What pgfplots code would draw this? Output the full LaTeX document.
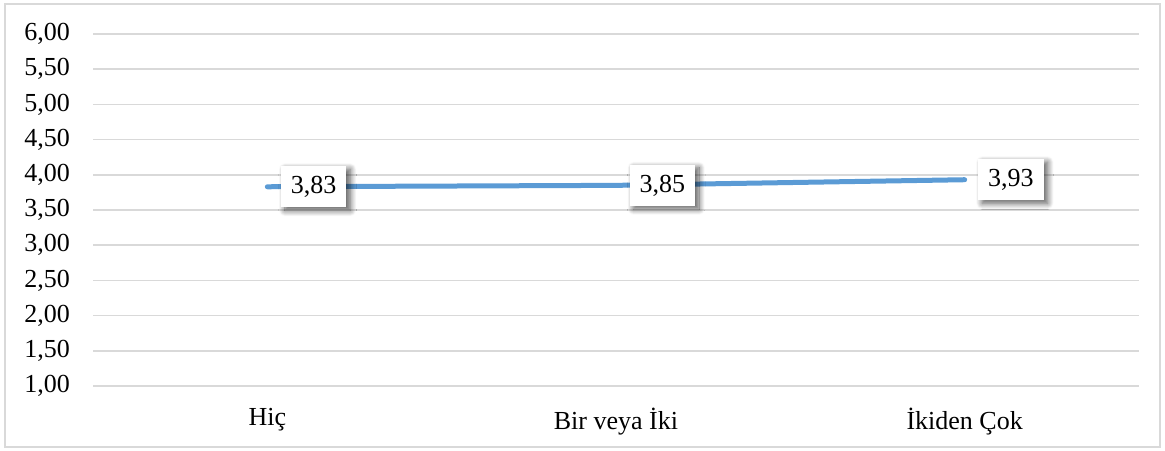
\documentclass[border=0pt]{standalone}
\usepackage{fontspec}
\setmainfont{Liberation Serif}
\usepackage{pgfplots}
\pgfplotsset{compat=1.18}
\usetikzlibrary{shadows.blur}
\definecolor{linebl}{HTML}{5B9BD5}
\definecolor{gridgr}{HTML}{D9D9D9}

\begin{document}
\begin{tikzpicture}[x=1pt,y=1pt,font=\fontsize{26}{30}\selectfont]
% page size and outer frame
\path (0,0) rectangle (1165,450);
\draw[gridgr, line width=1.5pt] (5,3) rectangle (1160,446);
\begin{axis}[
    at={(93pt,64pt)}, anchor=south west,
    scale only axis,
    width=1046pt, height=352pt,
    xmin=-0.5, xmax=2.5,
    ymin=1, ymax=6,
    xtick={0,1,2},
    xticklabels={Hiç, Bir veya İki, İkiden Çok},
    ytick={1,1.5,...,6},
    axis line style={draw=none},
    major tick length=0pt,
    ymajorgrids=true,
    grid style={gridgr, line width=1.5pt},
    tick label style={font=\fontsize{26}{30}\selectfont},
    /pgf/number format/assume math mode=true,
    yticklabel={\pgfmathprintnumber[fixed,fixed zerofill,precision=2,use comma]{\tick}},
    yticklabel style={anchor=east, inner sep=0pt, xshift=-23pt},
    xticklabel style={anchor=north, inner sep=0pt, yshift=-22pt},
    clip=false,
]
\addplot[
    color=linebl, line width=5pt, line cap=round, mark=none,
    point meta=y,
    nodes near coords={\pgfmathprintnumber[fixed,fixed zerofill,precision=2,use comma]{\pgfplotspointmeta}},
    nodes near coords style={anchor=west, xshift=11pt, draw=none, fill=white, text=black,
        font=\fontsize{26}{30}\selectfont,
        inner xsep=10pt, inner ysep=10pt,
        blur shadow={shadow xshift=4pt, shadow yshift=-3pt, shadow blur radius=6pt,
            shadow blur steps=12, shadow opacity=65}},
    ]
    coordinates {
    (0,3.83)(1,3.85)(2,3.93)
    };
\end{axis}
\end{tikzpicture}
\end{document}
